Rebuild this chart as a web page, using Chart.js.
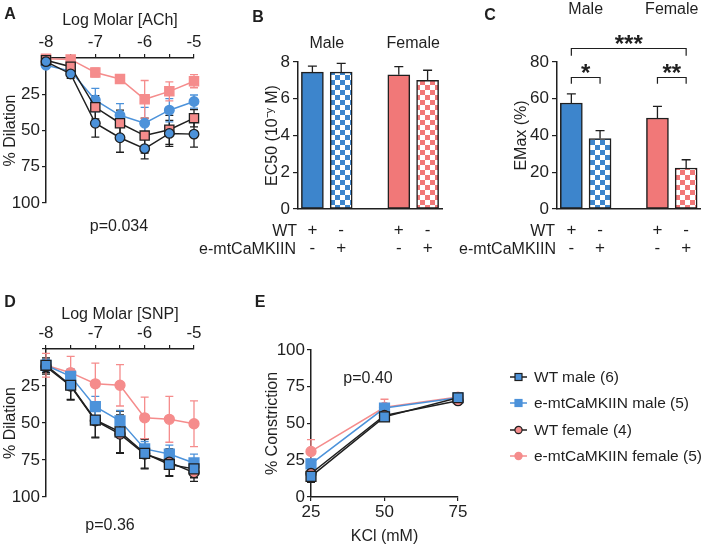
<!DOCTYPE html>
<html>
<head>
<meta charset="utf-8">
<script src="https://cdn.jsdelivr.net/npm/chart.js@4.4.1/dist/chart.umd.min.js"></script>
<style>
  html, body { margin: 0; padding: 0; background: #fff; }
  #fig { position: relative; width: 709px; height: 546px; overflow: hidden;
         font-family: 'Liberation Sans', Arial, sans-serif; color: #1f1f1f; }
  .pane { position: absolute; }
  .txt { position: absolute; white-space: nowrap; font-size: 16px; line-height: 18px; }
  .c { transform: translate(-50%, -50%); }
  .r { transform: translate(-100%, -50%); }
  .letra { font-weight: bold; font-size: 16px; }
  .ley { position: absolute; left: 508px; height: 18px; display: flex; align-items: center;
         font-size: 15.5px; transform: translateY(-50%); white-space: nowrap; }
  .ley svg { margin-right: 5px; }
</style>
</head>
<body>
<div id="fig">
  <div class="pane" style="left:0;top:0;width:240px;height:240px"><canvas id="chartA"></canvas></div>
  <div class="pane" style="left:240px;top:0;width:240px;height:260px"><canvas id="chartB"></canvas></div>
  <div class="pane" style="left:480px;top:0;width:229px;height:260px"><canvas id="chartC"></canvas></div>
  <div class="pane" style="left:0;top:290px;width:240px;height:256px"><canvas id="chartD"></canvas></div>
  <div class="pane" style="left:240px;top:290px;width:240px;height:256px"><canvas id="chartE"></canvas></div>

  <div class="txt c letra" style="left:10px;top:14px">A</div>
  <div class="txt c letra" style="left:258px;top:17px">B</div>
  <div class="txt c letra" style="left:490px;top:15px">C</div>
  <div class="txt c letra" style="left:10px;top:302px">D</div>
  <div class="txt c letra" style="left:260px;top:302px">E</div>

  <div class="txt c" style="left:119px;top:226px">p=0.034</div>
  <div class="txt c" style="left:110px;top:525px">p=0.36</div>
  <div class="txt c" style="left:368px;top:378px">p=0.40</div>

  <div class="txt r" style="left:297px;top:231px">WT</div>
  <div class="txt r" style="left:296px;top:249px">e-mtCaMKIIN</div>
  <div class="txt r" style="left:555px;top:231px">WT</div>
  <div class="txt r" style="left:556px;top:249px">e-mtCaMKIIN</div>

  <div id="leyenda"></div>
</div>

<script>
/* Figura de vasorreactividad: curvas dosis-respuesta y barras EC50 / EMax */

const INK = '#1f1f1f';
const BLUE = '#3d85cc';
const PINK = '#f17878';
const BLUE_LINE = '#4c92da';
const PINK_LINE = '#f58c8c';
const FONT = "'Liberation Sans', Arial, sans-serif";
const TICK_FONT = { size: 17 };

Chart.defaults.font.family = FONT;
Chart.defaults.font.size = 16;
Chart.defaults.color = INK;
Chart.defaults.animation = false;
Chart.defaults.plugins.legend.display = false;
Chart.defaults.plugins.tooltip.enabled = false;

// ---- datos ----
const LOG_DOSE = [-8, -7.5, -7, -6.5, -6, -5.5, -5];
const KCL = [25, 50, 75];

// A: ACh (% dilatación)
const achWtMale = [2.5, 11, 45, 55, 62.5, 52, 52.5];
const achWtMaleErr = [2, 3, 9.5, 10, 7, 9, 9];
const achWtFemale = [1.5, 6, 34, 45, 53.5, 49.5, 41.5];
const achWtFemaleErr = [1.5, 3, 8, 9, 12, 10, 6];
const achKoMale = [5, 9, 29, 39.5, 45, 36, 30];
const achKoMaleErr = [1.5, 2, 8, 8, 11, 8, 4.5];
const achKoFemale = [0.5, 1, 10, 14.5, 28.5, 23, 16];
const achKoFemaleErr = [1, 1.5, 3, 3, 13, 6.5, 4.5];

// D: SNP (% dilatación)
const snpWtMale = [11, 24.5, 48, 56, 70.5, 78, 81];
const snpWtMaleErr = [5, 10, 12, 14, 10, 8, 6];
const snpWtFemale = [12, 25, 48.5, 57.5, 71, 76.5, 83.5];
const snpWtFemaleErr = [5, 9, 11, 13, 10, 9, 6];
const snpKoMale = [11, 18.5, 39, 48.5, 67.5, 71, 77];
const snpKoMaleErr = [4, 5, 7, 7, 5, 6, 6];
const snpKoFemale = [11, 16, 23.5, 24.5, 46.5, 47.5, 50.5];
const snpKoFemaleErr = [8, 11, 14, 14, 14, 15.5, 15.5];

// E: KCl (% constricción)
const kclWtMale = [14, 54.5, 67.5];
const kclWtMaleErr = [4, 3, 3];
const kclWtFemale = [16, 55.5, 65.5];
const kclWtFemaleErr = [3, 3, 2];
const kclKoMale = [22.5, 60.5, 67.5];
const kclKoMaleErr = [3, 3, 2];
const kclKoFemale = [31, 61, 68];
const kclKoFemaleErr = [8, 5.5, 2];

// B y C: orden WT male, KO male, WT female, KO female
const ec50 = [7.45, 7.45, 7.3, 7.0];
const ec50Err = [0.33, 0.47, 0.45, 0.55];
const emax = [57.7, 38.3, 49.5, 22.3];
const emaxErr = [4.9, 4.4, 6.4, 4.5];

const SLOTS = ['WT male', 'e-mtCaMKIIN male', '', 'WT female', 'e-mtCaMKIIN female'];
const ROW_WT = ['+', '-', '', '+', '-'];
const ROW_KO = ['-', '+', '', '-', '+'];

// hueco central entre machos y hembras
const conHueco = a => [a[0], a[1], null, a[2], a[3]];

function checker(color) {
  const c = document.createElement('canvas');
  c.width = c.height = 10;
  const g = c.getContext('2d');
  g.fillStyle = '#fff';
  g.fillRect(0, 0, 10, 10);
  g.fillStyle = color;
  g.fillRect(0, 0, 5, 5);
  g.fillRect(5, 5, 5, 5);
  return g.createPattern(c, 'repeat');
}

// ---- plugins ----
function dibujarErrores(chart, tipo) {
  const { ctx } = chart;
  chart.data.datasets.forEach((ds, i) => {
    const meta = chart.getDatasetMeta(i);
    if (!ds.errores || meta.type !== tipo) return;
    const ys = chart.scales[meta.yAxisID];
    const cap = ds.capHalf || 4;
    ctx.save();
    ctx.strokeStyle = ds.errColor || INK;
    ctx.lineWidth = 1.3;
    meta.data.forEach((el, j) => {
      const e = ds.errores[j];
      const raw = ds.data[j];
      const v = raw !== null && typeof raw === 'object' ? raw.y : raw;
      if (e == null || v == null) return;
      const a = ys.getPixelForValue(v + e);
      const b = ys.getPixelForValue(tipo === 'bar' ? v : v - e);
      ctx.beginPath();
      ctx.moveTo(el.x, a); ctx.lineTo(el.x, b);
      ctx.moveTo(el.x - cap, a); ctx.lineTo(el.x + cap, a);
      if (tipo !== 'bar') { ctx.moveTo(el.x - cap, b); ctx.lineTo(el.x + cap, b); }
      ctx.stroke();
    });
    ctx.restore();
  });
}

const barrasError = {
  id: 'barrasError',
  beforeDatasetsDraw(chart) { dibujarErrores(chart, 'line'); },
  afterDatasetsDraw(chart) { dibujarErrores(chart, 'bar'); },
};

const anotaciones = {
  id: 'anotaciones',
  afterDatasetsDraw(chart, args, opts) {
    const { ctx } = chart;
    const x = chart.scales.x, y = chart.scales.y;
    ctx.save();
    ctx.fillStyle = INK;
    ctx.strokeStyle = INK;
    ctx.lineWidth = 1.2;
    ctx.textAlign = 'center';
    (opts.grupos || []).forEach(g => {
      ctx.font = `16px ${FONT}`;
      ctx.textBaseline = 'middle';
      const cx = (x.getPixelForValue(g.desde) + x.getPixelForValue(g.hasta)) / 2;
      ctx.fillText(g.texto, cx, opts.grupoY);
    });
    (opts.corchetes || []).forEach(b => {
      const x1 = x.getPixelForValue(b.desde), x2 = x.getPixelForValue(b.hasta);
      const top = Math.round(y.getPixelForValue(b.nivel)) + 0.5;
      const pie = y.getPixelForValue(b.pie);
      ctx.beginPath();
      ctx.moveTo(x1, pie); ctx.lineTo(x1, top); ctx.lineTo(x2, top); ctx.lineTo(x2, pie);
      ctx.stroke();
      ctx.font = `bold 24px ${FONT}`;
      ctx.textBaseline = 'alphabetic';
      ctx.fillText(b.texto, (x1 + x2) / 2, top + 3);
    });
    ctx.restore();
  },
};

// ---- ejes ----
const gridTicks = { drawOnChartArea: false, tickLength: 4, color: INK, lineWidth: 1.2 };
const borde = { color: INK, width: 1.5 };

function ejeLog(titulo, alto, tituloPad) {
  return {
    type: 'linear', position: 'top', min: -8, max: -5,
    ticks: { stepSize: 0.5, autoSkip: false, maxRotation: 0, padding: 1, font: TICK_FONT,
             callback: v => (Number.isInteger(v) ? v : '') },
    grid: gridTicks,
    border: borde,
    title: { display: true, text: titulo, padding: { top: tituloPad, bottom: 0 } },
    afterFit(s) { s.height = alto; },
  };
}

function ejeDilatacion() {
  return {
    min: 0, max: 100, reverse: true,
    ticks: { stepSize: 25, padding: 2, font: TICK_FONT, callback: v => (v === 0 ? '' : v) },
    grid: gridTicks,
    border: borde,
    title: { display: true, text: '% Dilation', padding: { top: 1.4, bottom: 0 } },
    afterFit(s) { s.width = 46; },
  };
}

function serie(xs, ys, errs, estilo) {
  return Object.assign({
    data: xs.map((x, i) => ({ x, y: ys[i] })),
    errores: errs,
    borderWidth: 1.5,
    pointBorderWidth: 1.3,
    clip: false,
    tension: 0,
  }, estilo);
}

// estilos de marcador
const wtMaleCirc = { borderColor: INK, pointBackgroundColor: BLUE_LINE, pointBorderColor: INK, pointStyle: 'circle', pointRadius: 4.8, errColor: INK };
const wtFemaleSq = { borderColor: INK, pointBackgroundColor: PINK_LINE, pointBorderColor: INK, pointStyle: 'rect', pointRadius: 6.5, errColor: INK };
const koMaleCirc = { borderColor: BLUE_LINE, pointBackgroundColor: BLUE_LINE, pointBorderColor: BLUE_LINE, pointStyle: 'circle', pointRadius: 4.8, errColor: BLUE_LINE };
const koFemaleSq = { borderColor: PINK_LINE, pointBackgroundColor: PINK_LINE, pointBorderColor: PINK_LINE, pointStyle: 'rect', pointRadius: 6.5, errColor: PINK_LINE };

const wtMaleSq = { borderColor: INK, pointBackgroundColor: BLUE_LINE, pointBorderColor: INK, pointStyle: 'rect', pointRadius: 7, errColor: INK };
const koMaleSq = { borderColor: BLUE_LINE, pointBackgroundColor: BLUE_LINE, pointBorderColor: BLUE_LINE, pointStyle: 'rect', pointRadius: 7, errColor: BLUE_LINE };
const wtFemaleCirc = { borderColor: INK, pointBackgroundColor: PINK_LINE, pointBorderColor: INK, pointStyle: 'circle', pointRadius: 5, errColor: INK };
const koFemaleCirc = { borderColor: PINK_LINE, pointBackgroundColor: PINK_LINE, pointBorderColor: PINK_LINE, pointStyle: 'circle', pointRadius: 5, errColor: PINK_LINE };

// ---- A ----
new Chart(document.getElementById('chartA'), {
  type: 'line',
  data: {
    datasets: [
      serie(LOG_DOSE, achWtMale, achWtMaleErr, wtMaleCirc),
      serie(LOG_DOSE, achWtFemale, achWtFemaleErr, wtFemaleSq),
      serie(LOG_DOSE, achKoMale, achKoMaleErr, koMaleCirc),
      serie(LOG_DOSE, achKoFemale, achKoFemaleErr, koFemaleSq),
    ],
  },
  options: {
    responsive: true, maintainAspectRatio: false,
    layout: { padding: { top: 0, left: 0, right: 46, bottom: 37 } },
    scales: { x: ejeLog('Log Molar [ACh]', 58, 11.4), y: ejeDilatacion() },
  },
  plugins: [barrasError],
});

// ---- D ----
new Chart(document.getElementById('chartD'), {
  type: 'line',
  data: {
    datasets: [
      serie(LOG_DOSE, snpWtMale, snpWtMaleErr, wtMaleSq),
      serie(LOG_DOSE, snpWtFemale, snpWtFemaleErr, wtFemaleCirc),
      serie(LOG_DOSE, snpKoMale, snpKoMaleErr, koMaleSq),
      serie(LOG_DOSE, snpKoFemale, snpKoFemaleErr, koFemaleCirc),
    ],
  },
  options: {
    responsive: true, maintainAspectRatio: false,
    layout: { padding: { top: 0, left: 0, right: 46, bottom: 49 } },
    scales: { x: ejeLog('Log Molar [SNP]', 59, 15.4), y: ejeDilatacion() },
  },
  plugins: [barrasError],
});

// ---- E ----
new Chart(document.getElementById('chartE'), {
  type: 'line',
  data: {
    datasets: [
      serie(KCL, kclWtMale, kclWtMaleErr, wtMaleSq),
      serie(KCL, kclWtFemale, kclWtFemaleErr, wtFemaleCirc),
      serie(KCL, kclKoMale, kclKoMaleErr, koMaleSq),
      serie(KCL, kclKoFemale, kclKoFemaleErr, koFemaleCirc),
    ],
  },
  options: {
    responsive: true, maintainAspectRatio: false,
    layout: { padding: { top: 60, left: 0, right: 22, bottom: 0 } },
    scales: {
      x: {
        type: 'linear', min: 25, max: 75,
        ticks: { stepSize: 25, padding: 1, font: TICK_FONT },
        grid: gridTicks, border: borde,
        title: { display: true, text: 'KCl (mM)', padding: { top: 0, bottom: 0 } },
        afterFit(s) { s.height = 49; },
      },
      y: {
        min: 0, max: 100,
        ticks: { stepSize: 25, padding: 2, font: TICK_FONT },
        grid: gridTicks, border: borde,
        title: { display: true, text: '% Constriction', padding: { top: 23.4, bottom: 0 } },
        afterFit(s) { s.width = 71; },
      },
    },
  },
  plugins: [barrasError],
});

// ---- B y C ----
const rellenos = [BLUE, checker(BLUE), 'transparent', PINK, checker(PINK)];

function crearBarras(canvas, { valores, errores, max, paso, titulo, tituloPad, ancho, derecha, grupoY, corchetes }) {
  return new Chart(canvas, {
    type: 'bar',
    data: {
      labels: SLOTS,
      datasets: [{
        data: conHueco(valores),
        errores: conHueco(errores),
        backgroundColor: rellenos,
        borderColor: INK,
        borderWidth: 1.5,
        borderSkipped: false,
        barThickness: 22,
        capHalf: 4.5,
      }],
    },
    options: {
      responsive: true, maintainAspectRatio: false,
      layout: { padding: { top: 62, left: 0, right: derecha, bottom: 0 } },
      scales: {
        x: {
          offset: true,
          ticks: { autoSkip: false, maxRotation: 0, padding: 12.7, font: { size: 17, lineHeight: 1.06 },
                   callback: (v, i) => (i === 2 ? '' : [ROW_WT[i], ROW_KO[i]]) },
          grid: { drawOnChartArea: false, drawTicks: false },
          border: borde,
          afterFit(s) { s.height = 51; },
        },
        y: {
          min: 0, max: max,
          ticks: { stepSize: paso, padding: 3, font: TICK_FONT },
          grid: { drawOnChartArea: false, tickLength: 5, color: INK, lineWidth: 1.2 },
          border: borde,
          title: { display: true, text: titulo, padding: { top: tituloPad, bottom: 0 } },
          afterFit(s) { s.width = ancho; },
        },
      },
      plugins: {
        anotaciones: {
          grupoY,
          grupos: [{ texto: 'Male', desde: 0, hasta: 1 }, { texto: 'Female', desde: 3, hasta: 4 }],
          corchetes: corchetes || [],
        },
      },
    },
    plugins: [barrasError, anotaciones],
  });
}

crearBarras(document.getElementById('chartB'), {
  valores: ec50, errores: ec50Err, max: 8, paso: 2,
  titulo: 'EC50 (10⁻ʸ M)', tituloPad: 23.4, ancho: 58, derecha: 38, grupoY: 44,
});

crearBarras(document.getElementById('chartC'), {
  valores: emax, errores: emaxErr, max: 80, paso: 20,
  titulo: 'EMax (%)', tituloPad: 32.1, ancho: 77, derecha: 8.5, grupoY: 10,
  corchetes: [
    { desde: 0, hasta: 4, nivel: 87.6, pie: 83.4, texto: '***' },
    { desde: 0, hasta: 1, nivel: 71.8, pie: 68.2, texto: '*' },
    { desde: 3, hasta: 4, nivel: 71.8, pie: 68.2, texto: '**' },
  ],
});

// ---- leyenda (HTML) ----
const LEYENDA = [
  { texto: 'WT male (6)', linea: INK, relleno: BLUE_LINE, borde: INK, forma: 'rect' },
  { texto: 'e-mtCaMKIIN male (5)', linea: BLUE_LINE, relleno: BLUE_LINE, borde: BLUE_LINE, forma: 'rect' },
  { texto: 'WT female (4)', linea: INK, relleno: PINK_LINE, borde: INK, forma: 'circle' },
  { texto: 'e-mtCaMKIIN female (5)', linea: PINK_LINE, relleno: PINK_LINE, borde: PINK_LINE, forma: 'circle' },
];
const cont = document.getElementById('leyenda');
LEYENDA.forEach((it, i) => {
  const marca = it.forma === 'rect'
    ? `<rect x="7" y="3.5" width="7" height="7" fill="${it.relleno}" stroke="${it.borde}" stroke-width="1.2"/>`
    : `<circle cx="10.5" cy="7" r="3.6" fill="${it.relleno}" stroke="${it.borde}" stroke-width="1.2"/>`;
  const d = document.createElement('div');
  d.className = 'ley';
  d.style.top = (377 + i * 26.3) + 'px';
  d.innerHTML = `<svg width="21" height="14"><line x1="2" y1="7" x2="19" y2="7" stroke="${it.linea}" stroke-width="1.5"/>${marca}</svg>${it.texto}`;
  cont.appendChild(d);
});
</script>
</body>
</html>
